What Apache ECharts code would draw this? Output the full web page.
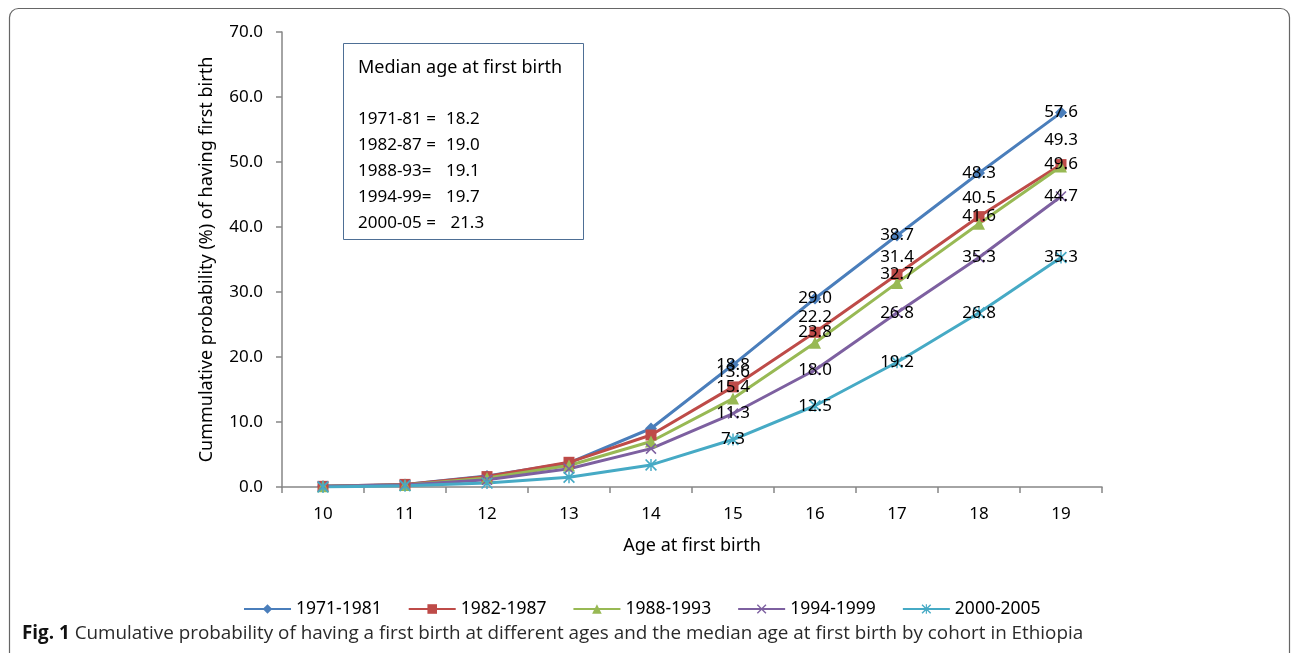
<!DOCTYPE html>
<html>
<head>
<meta charset="utf-8">
<script src="https://cdn.jsdelivr.net/npm/echarts@6/dist/echarts.min.js"></script>
<style>
html,body{margin:0;padding:0;background:#fff;}
#main{width:1292px;height:653px;}
</style>
</head>
<body>
<div id="main"></div>
<script>
var ages = ['10', '11', '12', '13', '14', '15', '16', '17', '18', '19'];
var cohorts = ['1971-1981', '1982-1987', '1988-1993', '1994-1999', '2000-2005'];
var c1971 = [0.1, 0.4, 1.7, 3.7, 9.0, 18.8, 29.0, 38.7, 48.3, 57.6];
var c1982 = [0.1, 0.4, 1.6, 3.8, 8.0, 15.4, 23.8, 32.7, 41.6, 49.6];
var c1988 = [0.1, 0.3, 1.4, 3.3, 7.0, 13.6, 22.2, 31.4, 40.5, 49.3];
var c1994 = [0.1, 0.3, 1.1, 2.8, 5.9, 11.3, 18.0, 26.8, 35.3, 44.7];
var c2000 = [0.0, 0.2, 0.6, 1.5, 3.4, 7.3, 12.5, 19.2, 26.8, 35.3];
var yTicks = [0, 10, 20, 30, 40, 50, 60, 70];
var medianLabels = ['1971-81 =', '1982-87 =', '1988-93=', '1994-99=', '2000-05 ='];
var medianAges = ['18.2', '19.0', '19.1', '19.7', ' 21.3'];

var font = 'Noto Sans';
var colors = ['#4A7EBB', '#BE4B48', '#98B954', '#7D60A0', '#46AAC5'];
var xMark = 'path://M0,1 L1,0 L5,4 L9,0 L10,1 L6,5 L10,9 L9,10 L5,6 L1,10 L0,9 L4,5 Z';
var starMark = 'path://M0,1 L1,0 L5,4 L9,0 L10,1 L6,5 L10,9 L9,10 L5,6 L1,10 L0,9 L4,5 Z M4.4,0 L5.6,0 L5.6,10 L4.4,10 Z';
var symbols = ['diamond', 'rect', 'triangle', xMark, starMark];
var symSizes = [12, 11, 12, 11, 12];
var labelOffsets = [[0, 0], [0, 0], [0, -26], [0, 0], [0, 0]];
var allData = [c1971, c1982, c1988, c1994, c2000];

var series = [];
for (var i = 0; i < cohorts.length; i++) {
    series.push({
        name: cohorts[i],
        type: 'line',
        data: allData[i],
        symbol: symbols[i],
        symbolSize: symSizes[i],
        showAllSymbol: true,
        lineStyle: {color: colors[i], width: 3},
        itemStyle: {color: colors[i]},
        emphasis: {disabled: true},
        label: {
            show: true,
            position: 'inside',
            offset: labelOffsets[i],
            color: '#000',
            fontFamily: font,
            fontSize: 17,
            formatter: function (p) {
                return p.dataIndex >= 5 ? p.value.toFixed(1) : '';
            }
        }
    });
}

var boxFont = '17px "Noto Sans"';
var graphics = [
    {type: 'rect', shape: {x: 9.5, y: 8.5, width: 1280, height: 680, r: 9},
     style: {fill: 'none', stroke: '#666', lineWidth: 1.2}, silent: true, z: -1},
    {type: 'rect', shape: {x: 343.5, y: 43.5, width: 240, height: 196},
     style: {fill: '#fff', stroke: '#4E6F95', lineWidth: 1}, z: 5},
    {type: 'text', x: 358, y: 68, z: 6,
     style: {text: 'Median age at first birth', fill: '#000', font: '18px "Noto Sans"', verticalAlign: 'middle'}},
    {type: 'text', x: 22, y: 634, z: 6,
     style: {text: '{b|Fig. 1} Cumulative probability of having a first birth at different ages and the median age at first birth by cohort in Ethiopia',
             verticalAlign: 'middle', fill: '#2a2a2a',
             font: '18.85px "Open Sans"',
             rich: {b: {fontWeight: 'bold', fontFamily: 'Open Sans', fontSize: 18.85, fill: '#111'}}}}
];
for (var k = 0; k < medianLabels.length; k++) {
    graphics.push({type: 'text', x: 358, y: 119 + k * 26, z: 6,
        style: {text: medianLabels[k], fill: '#000', font: boxFont, verticalAlign: 'middle'}});
    graphics.push({type: 'text', x: 446, y: 119 + k * 26, z: 6,
        style: {text: medianAges[k], fill: '#000', font: boxFont, verticalAlign: 'middle'}});
}

var myChart = echarts.init(document.getElementById('main'));
var option = {
    animation: false,
    color: colors,
    textStyle: {fontFamily: font},
    grid: {left: 282, right: 190, top: 32, bottom: 166, containLabel: false},
    legend: {
        data: cohorts,
        left: 238,
        top: 595,
        itemWidth: 47,
        itemHeight: 12,
        itemGap: 26,
        textStyle: {fontFamily: font, fontSize: 17.5, color: '#000'}
    },
    xAxis: {
        type: 'category',
        data: ages,
        boundaryGap: true,
        name: 'Age at first birth',
        nameLocation: 'middle',
        nameGap: 50,
        nameTextStyle: {fontFamily: font, fontSize: 18, color: '#000'},
        axisLine: {lineStyle: {color: '#868686', width: 1.5}},
        axisTick: {show: true, length: 6, lineStyle: {color: '#868686', width: 1.5}},
        axisLabel: {fontFamily: font, fontSize: 17, color: '#000', margin: 19}
    },
    yAxis: {
        type: 'value',
        min: yTicks[0],
        max: yTicks[yTicks.length - 1],
        interval: 10,
        name: 'Cummulative probability (%) of having first birth',
        nameLocation: 'middle',
        nameGap: 66,
        nameTextStyle: {fontFamily: font, fontSize: 18, color: '#000'},
        axisLine: {show: true, lineStyle: {color: '#868686', width: 1.5}},
        axisTick: {show: true, length: 6, lineStyle: {color: '#868686', width: 1.5}},
        splitLine: {show: false},
        axisLabel: {fontFamily: font, fontSize: 17, color: '#000', margin: 19,
            formatter: function (v) { return v.toFixed(1); }}
    },
    graphic: graphics,
    series: series
};
myChart.setOption(option);
</script>
</body>
</html>
